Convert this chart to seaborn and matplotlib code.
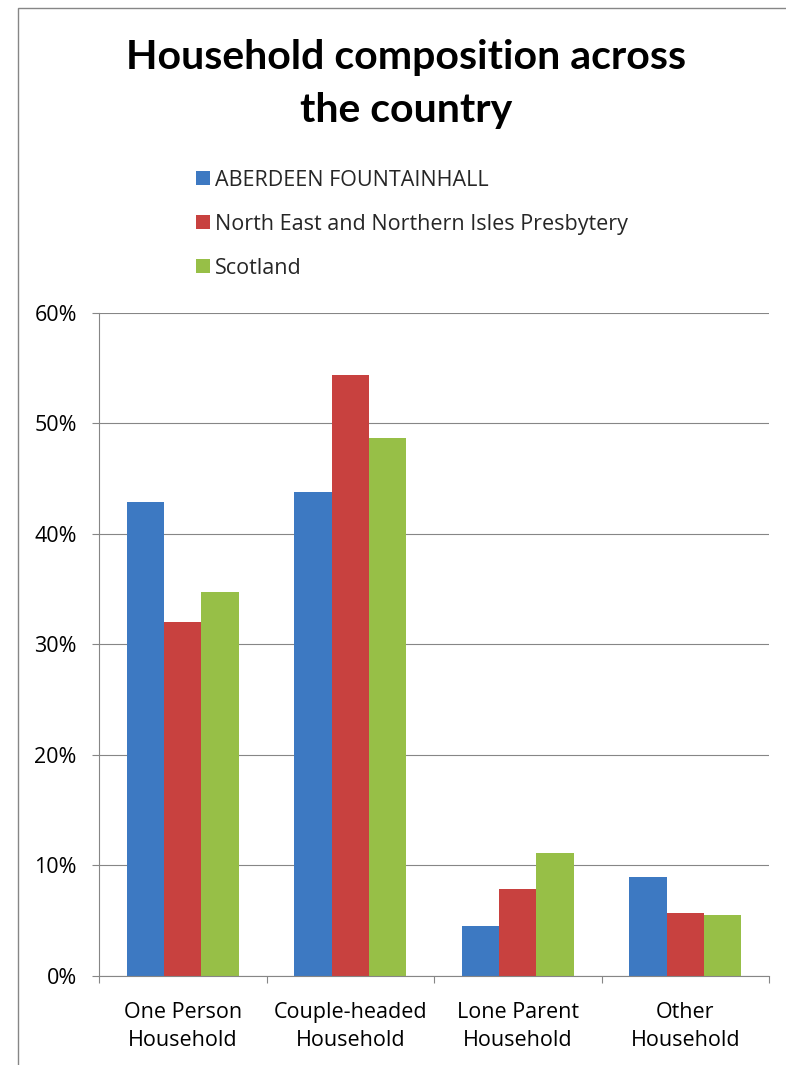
import matplotlib
matplotlib.use("Agg")
import matplotlib.pyplot as plt
import seaborn as sns
import pandas as pd
from matplotlib.patches import Rectangle
from matplotlib.ticker import FuncFormatter

# ---- data ----
categories = ["One Person\nHousehold", "Couple-headed\nHousehold",
              "Lone Parent\nHousehold", "Other\nHousehold"]
series = ["ABERDEEN FOUNTAINHALL",
          "North East and Northern Isles Presbytery",
          "Scotland"]
aberdeen = [42.9, 43.8, 4.5, 9.0]
presbytery = [32.0, 54.4, 7.9, 5.7]
scotland = [34.7, 48.7, 11.1, 5.5]
yticks = [0, 10, 20, 30, 40, 50, 60]
title = "Household composition across\nthe country"

colors = ["#3D79C2", "#C8413F", "#97BF47"]

rows = []
for s, vals in zip(series, [aberdeen, presbytery, scotland]):
    for c, v in zip(categories, vals):
        rows.append({"category": c, "series": s, "value": v})
df = pd.DataFrame(rows)

sns.set_theme(style="white")
plt.rcParams["font.family"] = ["Open Sans", "DejaVu Sans"]

W, H = 786, 1065
fig = plt.figure(figsize=(W / 100, H / 100), dpi=100)
fig.patch.set_facecolor("white")

def px(x0, y0, x1, y1):
    return [x0 / W, 1 - y1 / H, (x1 - x0) / W, (y1 - y0) / H]

ax = fig.add_axes(px(99, 312.7, 769, 976))

sns.barplot(data=df, x="category", y="value", hue="series",
            palette=colors, width=0.67, gap=0, ax=ax,
            edgecolor="none", linewidth=0, legend=False, errorbar=None,
            saturation=1)

grid_c = "#868686"
ax.set_ylim(0, 60)
ax.set_xlim(-0.5, 3.5)
ax.set_yticks(yticks)
ax.yaxis.set_major_formatter(FuncFormatter(lambda v, p: f"{v:.0f}%"))
ax.yaxis.grid(True, color=grid_c, linewidth=0.8)
ax.xaxis.grid(False)
ax.set_axisbelow(True)
ax.set_xlabel("")
ax.set_ylabel("")

for side in ["top", "right"]:
    ax.spines[side].set_visible(False)
for side in ["left", "bottom"]:
    ax.spines[side].set_visible(True)
    ax.spines[side].set_color(grid_c)
    ax.spines[side].set_linewidth(0.8)

fs = 15.5
ax.tick_params(axis="y", which="major", length=5, width=0.8, color=grid_c,
               pad=11, labelsize=fs, labelcolor="black", left=True)
ax.set_xticks(range(len(categories)))
ax.set_xticklabels(categories, fontsize=fs, linespacing=1.4)
ax.tick_params(axis="x", which="major", length=0, pad=19, labelcolor="black")
ax.set_xticks([-0.5, 0.5, 1.5, 2.5, 3.5], minor=True)
ax.tick_params(axis="x", which="minor", length=5, width=0.8, color=grid_c,
               bottom=True)

# title
fig.text(406 / W, 1 - 39 / H, title, ha="center", va="top",
         fontsize=29.5, fontweight="bold", color="black", linespacing=1.54,
         family=["Lato", "DejaVu Sans"])

# legend
handles = [Rectangle((0, 0), 1, 1, facecolor=c, edgecolor="none") for c in colors]
leg = fig.legend(handles, series, loc="upper left",
                 bbox_to_anchor=(196 / W, 1 - 169.5 / H),
                 frameon=False, fontsize=fs, handlelength=0.64,
                 handleheight=0.64, handletextpad=0.25, labelspacing=1.07,
                 borderaxespad=0, borderpad=0)

# outer chart border (cropped at right and bottom)
fig.patches.append(Rectangle((17.5 / W, -0.05), 1.1, 1 - 7.5 / H + 0.05,
                             transform=fig.transFigure, fill=False,
                             edgecolor=grid_c, linewidth=1.0))

fig.savefig("out.png", dpi=100)
